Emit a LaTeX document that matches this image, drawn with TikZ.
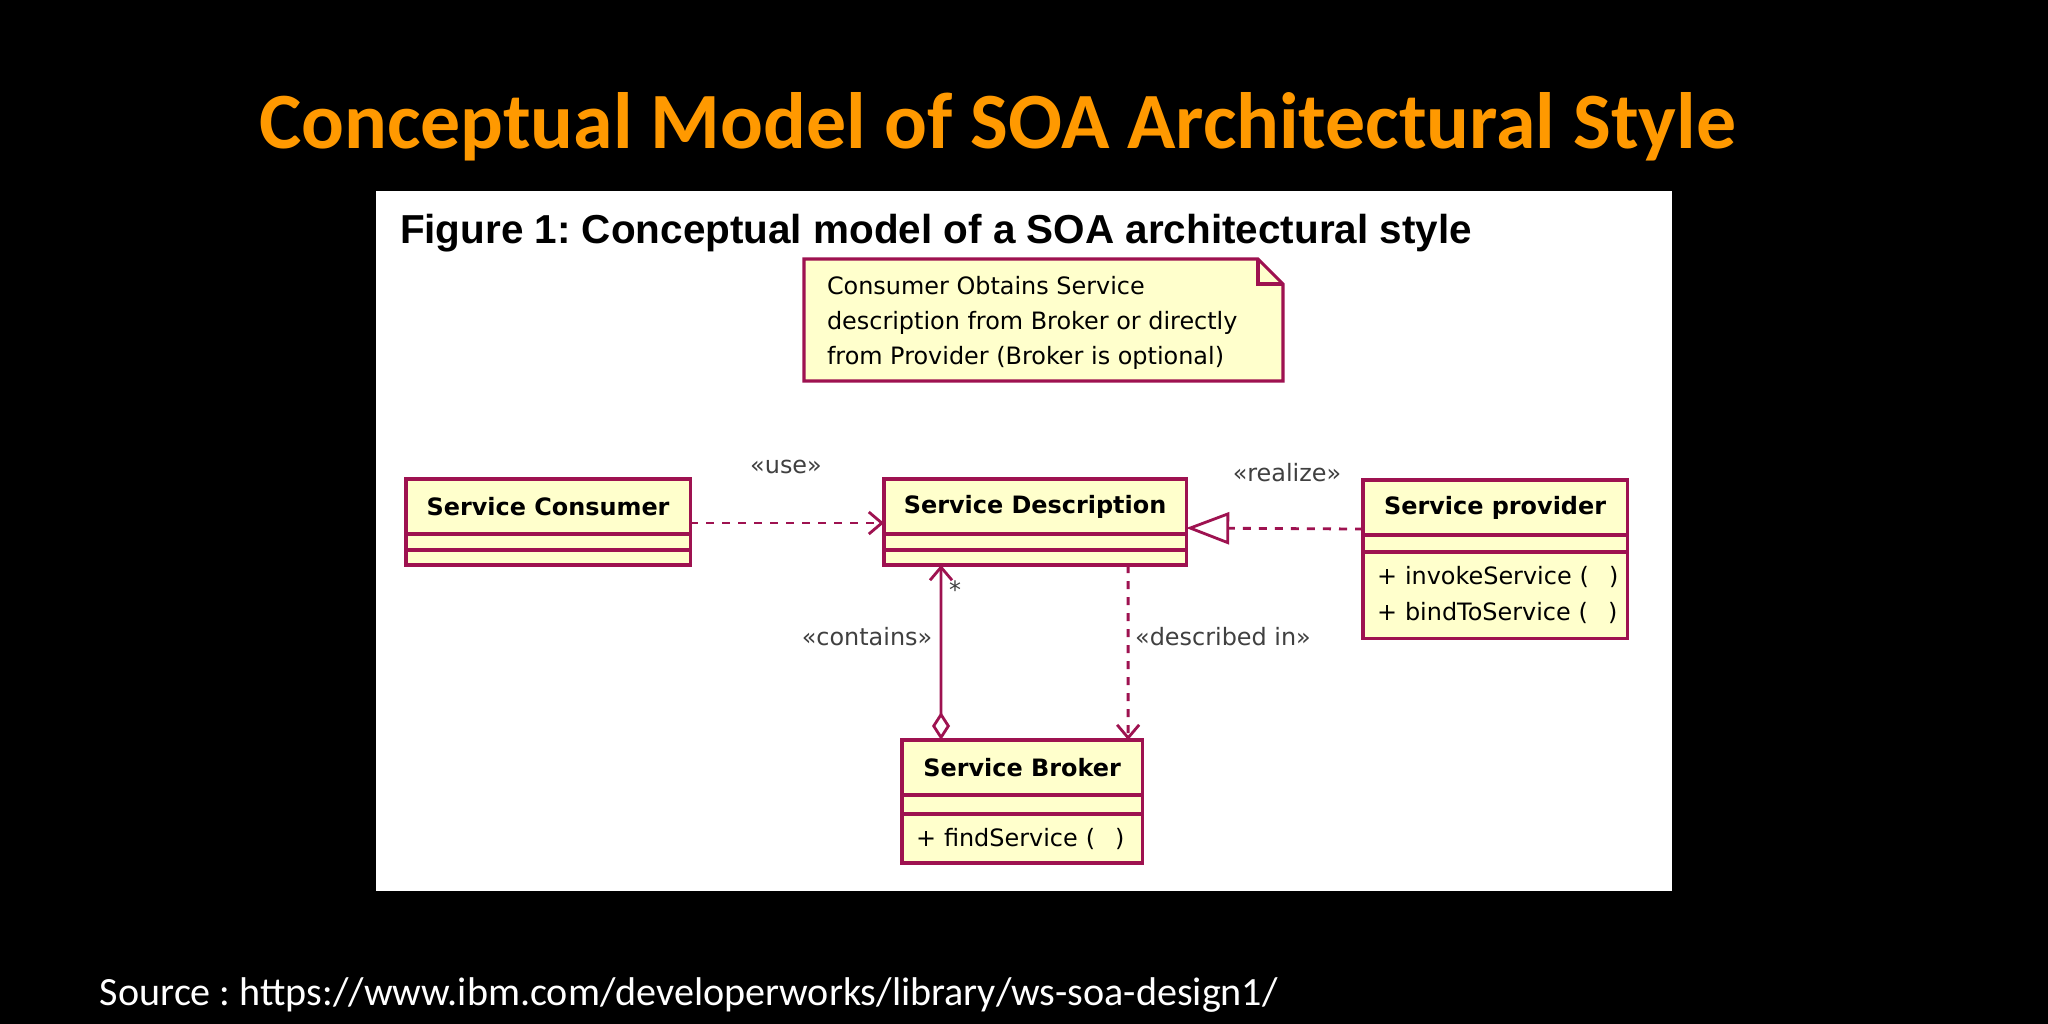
\documentclass[tikz,border=0pt]{standalone}
\usepackage{fontspec}
\setmainfont{Carlito}
\newfontfamily\umlfont{DejaVu Sans}
\newfontfamily\figfont{Liberation Sans}
\usetikzlibrary{positioning}
\usetikzlibrary{arrows.meta,calc}
\definecolor{umlred}{RGB}{158,18,80}
\definecolor{umlfill}{RGB}{255,255,204}
\definecolor{slideorange}{RGB}{255,153,0}
\newcommand{\umlsize}{\fontsize{6.8pt}{10pt}\selectfont}
\frenchspacing

\begin{document}
\begin{tikzpicture}[x=0.01cm, y=-0.01cm, node distance=0cm, outer sep=0pt]
\tikzstyle{classname}=[
                  draw=umlred,
                  line width=0.9pt,
                  rectangle,
                  fill=umlfill,
                  inner sep=0pt,
                  minimum height=0.55cm,
                  font=\umlfont\umlsize\bfseries,
                  anchor=north west]

\tikzstyle{compartment}=[
                  draw=umlred,
                  line width=0.9pt,
                  rectangle,
                  fill=umlfill,
                  inner ysep=0pt,
                  inner xsep=0.14cm,
                  align=left,
                  font=\umlfont\umlsize]

\tikzstyle{stereo}=[font=\umlfont\umlsize, text=black!75, inner sep=0pt]
\tikzstyle{dep}=[umlred, line width=0.8pt, dash pattern=on 0.08cm off 0.08cm]

% slide and figure panel
\fill[black] (0,0) rectangle (2048,1024);
\fill[white] (376,191) rectangle (1672,891);

\node[anchor=base west, inner sep=0pt, text=slideorange, font=\fontsize{22.7pt}{27pt}\selectfont\bfseries]
      (slidetitle) at (259,148) {Conceptual Model of SOA Architectural Style};
\node[anchor=base west, inner sep=0pt, font=\figfont\fontsize{11.5pt}{14pt}\selectfont\bfseries]
      (figtitle) at (400,243) {Figure 1: Conceptual model of a SOA architectural style};
\node[anchor=base west, inner sep=0pt, text=white, font=\fontsize{11.4pt}{13pt}\selectfont]
      (source) at (100,1005) {Source : https://www.ibm.com/developerworks/library/ws-soa-design1/};

% note
\draw[umlred, line width=0.9pt, fill=umlfill] (804,259) -- (1258,259) -- (1283,284) -- (1283,381) -- (804,381) -- cycle;
\draw[umlred, line width=0.9pt] (1258,259) -- (1258,284) -- (1283,284);
\node[stereo, text=black, anchor=west, align=left] (notetext) at (827,323)
      {Consumer Obtains Service\\description from Broker or directly\\from Provider (Broker is optional)};

% classes
\node[classname] (sconsumer) at (406,479) [minimum width=2.84cm] {Service Consumer};
\node[compartment] (sconsumerattr) [below = of sconsumer, minimum width=2.84cm, minimum height=0.16cm] {};
\node[compartment] (sconsumerops)  [below = of sconsumerattr, minimum width=2.84cm, minimum height=0.15cm] {};

\node[classname] (sdesc) at (884,479) [minimum width=3.02cm] {Service Description};
\node[compartment] (sdescattr) [below = of sdesc, minimum width=3.02cm, minimum height=0.16cm] {};
\node[compartment] (sdescops)  [below = of sdescattr, minimum width=3.02cm, minimum height=0.15cm] {};

\node[classname] (sprovider) at (1363,480) [minimum width=2.64cm] {Service provider};
\node[compartment] (sproviderattr) [below = of sprovider, minimum width=2.64cm, minimum height=0.17cm] {};
\node[compartment] (sproviderops)  [below = of sproviderattr, text width=2.36cm, minimum height=0.86cm]
      {\mbox{+ invokeService (\kern0.2cm)}\\\mbox{+ bindToService (\kern0.2cm)}};

\node[classname] (sbroker) at (902,740) [minimum width=2.40cm] {Service Broker};
\node[compartment] (sbrokerattr) [below = of sbroker, minimum width=2.40cm, minimum height=0.19cm] {};
\node[compartment] (sbrokerops)  [below = of sbrokerattr, text width=2.12cm, minimum height=0.49cm]
      {\mbox{+ findService (\kern0.2cm)}};

% connectors
\draw[dep, -{Straight Barb[length=0.13cm,width=0.22cm]}]
      ([yshift=0.11cm]sconsumer.south east) -- ([yshift=0.11cm]sdesc.south west);
\draw[dep, -{Triangle[open,length=0.43cm,width=0.32cm]}]
      ([yshift=0.06cm]sprovider.south west) -- ([yshift=0.06cm]sdesc.south east);
\draw[umlred, line width=0.8pt, {Diamond[open,length=0.28cm,width=0.18cm]}-{Straight Barb[length=0.13cm,width=0.22cm]}]
      ([xshift=0.39cm]sbroker.north west) -- ([xshift=0.57cm]sdescops.south west);
\draw[dep, -{Straight Barb[length=0.13cm,width=0.22cm]}]
      ([xshift=-0.58cm]sdescops.south east) -- ([xshift=-0.14cm]sbroker.north east);

% stereotypes
\node[stereo] (uselbl)      at (786,467)  {«use»};
\node[stereo] (realizelbl)  at (1287,473) {«realize»};
\node[stereo] (containslbl) at (867,637)  {«contains»};
\node[stereo] (describedlbl) at (1223,637) {«described in»};
\node[stereo] (manylbl)     at (955,590)  {*};

\end{tikzpicture}
\end{document}
